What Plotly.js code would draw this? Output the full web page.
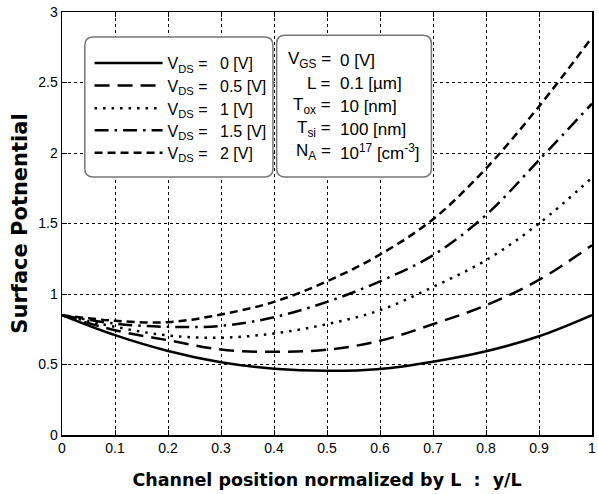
<!DOCTYPE html>
<html><head><meta charset="utf-8">
<script src="https://cdn.plot.ly/plotly-3.0.1.min.js"></script>
<style>body{margin:0;background:#fff}</style>
</head><body><div id="chart" style="width:598px;height:494px"></div>
<script>
const positions = [0, 0.1, 0.2, 0.3, 0.4, 0.5, 0.6, 0.7, 0.8, 0.9, 1.0];
const vds0   = [0.85, 0.708, 0.596, 0.516, 0.470, 0.455, 0.468, 0.520, 0.594, 0.700, 0.850];
const vds05  = [0.85, 0.743, 0.672, 0.606, 0.590, 0.605, 0.668, 0.786, 0.920, 1.100, 1.346];
const vds1   = [0.85, 0.767, 0.706, 0.690, 0.720, 0.786, 0.885, 1.050, 1.240, 1.500, 1.825];
const vds15  = [0.85, 0.790, 0.767, 0.774, 0.835, 0.944, 1.090, 1.275, 1.560, 1.950, 2.350];
const vds2   = [0.85, 0.810, 0.800, 0.855, 0.944, 1.090, 1.280, 1.530, 1.890, 2.330, 2.820];
const seriesNames = ['V<sub>DS</sub> =\u2002 0 [V]', 'V<sub>DS</sub> =\u2002 0.5 [V]', 'V<sub>DS</sub> =\u2002 1 [V]', 'V<sub>DS</sub> =\u2002 1.5 [V]', 'V<sub>DS</sub> =\u2002 2 [V]'];
const paramLeft  = ['V<sub>GS</sub> =', 'L =', 'T<sub>ox</sub> =', 'T<sub>si</sub> =', 'N<sub>A</sub> ='];
const paramRight = ['0 [V]', '0.1 [µm]', '10 [nm]', '100 [nm]', '10<sup>17</sup> [cm<sup>-3</sup>]'];
const xTicks = [0, 0.1, 0.2, 0.3, 0.4, 0.5, 0.6, 0.7, 0.8, 0.9, 1];
const yTicks = [0, 0.5, 1, 1.5, 2, 2.5, 3];

const series = [vds0, vds05, vds1, vds15, vds2];
const dashes = ['solid', '15px,8px', '2.5px,6px', '14px,6px,2.5px,6px', '8px,5px'];
const legendIds = ['legend', 'legend2', 'legend3', 'legend4', 'legend5'];
const traces = series.map((s, i) => ({
  x: positions, y: s, type: 'scatter', mode: 'lines', name: seriesNames[i], legend: legendIds[i],
  line: {color: '#000', width: 2.5, dash: dashes[i], shape: 'spline', smoothing: 1}
}));

function rbox(x0, x1, y0, y1, rx, ry) {
  return `M${x0+rx},${y1} L${x1-rx},${y1} Q${x1},${y1} ${x1},${y1-ry} L${x1},${y0+ry} Q${x1},${y0} ${x1-rx},${y0} L${x0+rx},${y0} Q${x0},${y0} ${x0},${y0+ry} L${x0},${y1-ry} Q${x0},${y1} ${x0+rx},${y1} Z`;
}
const rowY = [2.658, 2.495, 2.332, 2.169, 2.006];
const rowPaper = [0.879, 0.826, 0.772, 0.720, 0.667];
const annotations = [];
const txtFont = {family: 'Liberation Sans, Arial, sans-serif', size: 17, color: '#000'};
paramLeft.forEach((t, i) => {
  annotations.push({x: 0.511, y: rowY[i], xref: 'x', yref: 'y', text: t, showarrow: false, xanchor: 'right', yanchor: 'middle', font: txtFont});
  annotations.push({x: 0.521, y: rowY[i], xref: 'x', yref: 'y', text: paramRight[i], showarrow: false, xanchor: 'left', yanchor: 'middle', font: txtFont});
});

const layout = {
  width: 598, height: 494,
  margin: {l: 62, r: 6, t: 12, b: 59},
  paper_bgcolor: '#fff', plot_bgcolor: '#fff',
  showlegend: true,
  xaxis: {range: [0, 1], tickvals: xTicks, ticktext: xTicks.map(String), ticks: 'inside', ticklen: 5, tickcolor: '#000',
          showline: true, linecolor: '#000', linewidth: 1.5, mirror: 'ticks', zeroline: false,
          showgrid: true, gridcolor: '#000', gridwidth: 1, griddash: 'dot',
          tickfont: {family: 'Liberation Sans, Arial, sans-serif', size: 14, color: '#000'},
          title: {text: 'Channel position normalized by L  :  y/L', standoff: 18,
                  font: {family: 'DejaVu Sans, sans-serif', size: 17.5, weight: 'bold', color: '#000'}}},
  yaxis: {range: [0, 3], tickvals: yTicks, ticktext: yTicks.map(String), ticks: 'inside', ticklen: 5, tickcolor: '#000',
          showline: true, linecolor: '#000', linewidth: 1.5, mirror: 'ticks', zeroline: false,
          showgrid: true, gridcolor: '#000', gridwidth: 1, griddash: 'dot',
          tickfont: {family: 'Liberation Sans, Arial, sans-serif', size: 14, color: '#000'},
          title: {text: 'Surface Potnential', standoff: 5,
                  font: {family: 'DejaVu Sans, sans-serif', size: 21, weight: 'bold', color: '#000'}}},
  shapes: [
    {type: 'path', xref: 'x', yref: 'y', path: rbox(0.043, 0.398, 1.83, 2.823, 0.016, 0.06), fillcolor: '#fff', line: {color: '#777', width: 1.5}, layer: 'above'},
    {type: 'path', xref: 'x', yref: 'y', path: rbox(0.405, 0.697, 1.83, 2.835, 0.016, 0.06), fillcolor: '#fff', line: {color: '#777', width: 1.5}, layer: 'above'}
  ],
  annotations: annotations
};
legendIds.forEach((id, i) => {
  layout[id] = {x: 0.052, y: rowPaper[i], xanchor: 'left', yanchor: 'middle', bgcolor: 'rgba(0,0,0,0)', borderwidth: 0,
                font: {family: 'Liberation Sans, Arial, sans-serif', size: 16, color: '#000'}, itemwidth: 68};
});
Plotly.newPlot('chart', traces, layout, {displayModeBar: false, staticPlot: true});
</script></body></html>
